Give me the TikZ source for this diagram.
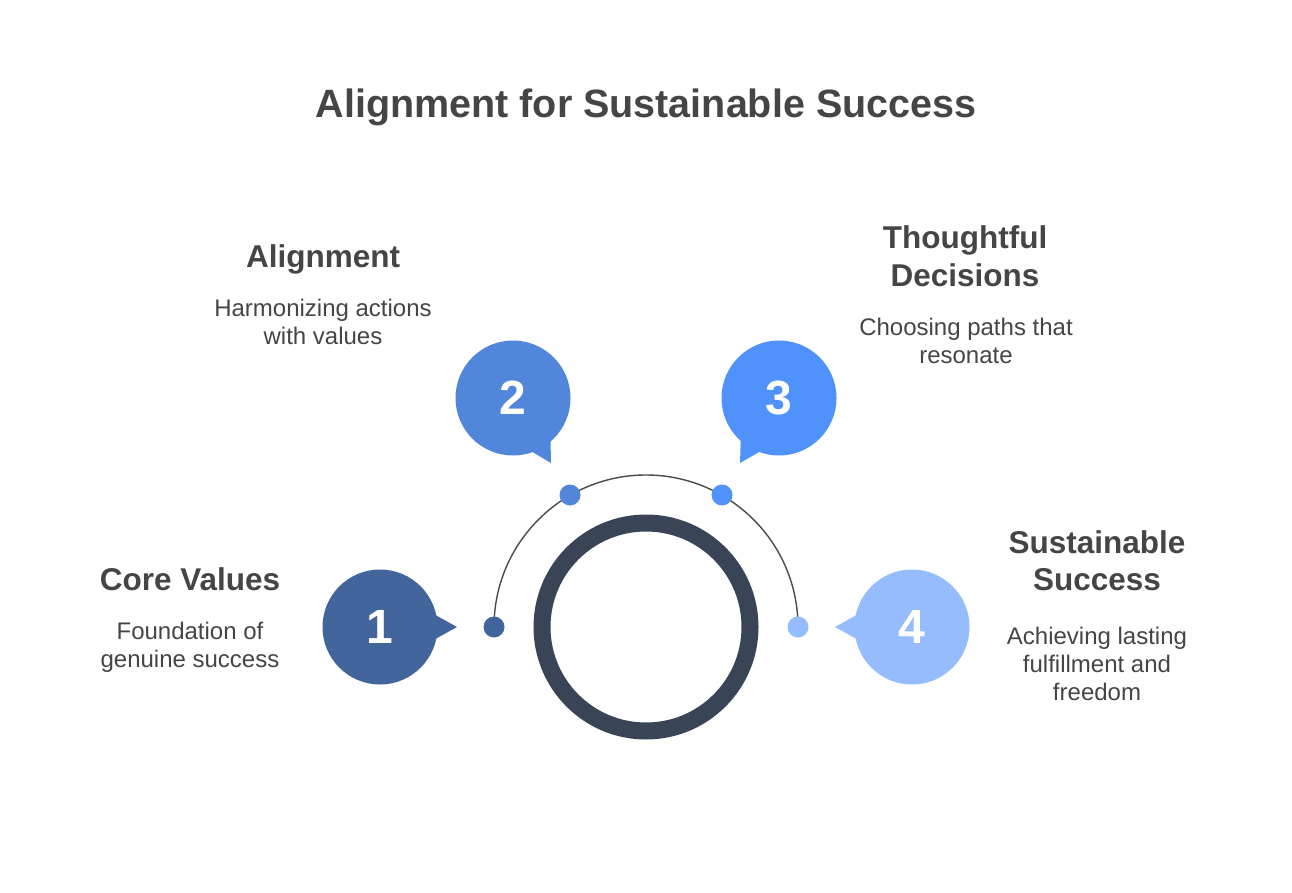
\documentclass[tikz,border=0pt]{standalone}
\usepackage{fontspec}
\setmainfont{Liberation Sans}
\usepackage{tikz}
\usetikzlibrary{calc}
\usepackage{xcolor}

\definecolor{txtgray}{HTML}{454545}
\definecolor{ringcol}{HTML}{394457}
\definecolor{arccol}{HTML}{4A4A4A}
\definecolor{stepone}{HTML}{42659C}
\definecolor{steptwo}{HTML}{5186DB}
\definecolor{stepthree}{HTML}{4F92FB}
\definecolor{stepfour}{HTML}{95BDFD}

\begin{document}
\begin{tikzpicture}[x=1pt,y=-1pt,
  every node/.style={text=txtgray},
  bubble/.style={circle,minimum size=115pt,inner sep=0pt,text=white,
    font=\fontsize{48}{48}\selectfont\bfseries},
  dot/.style={circle,minimum size=21pt,inner sep=0pt},
  headtxt/.style={anchor=base,align=center,font=\fontsize{31.5}{37}\selectfont\bfseries},
  bodytxt/.style={anchor=base,align=center,font=\fontsize{24}{28}\selectfont}]
\useasboundingbox[fill=white] (0,0) rectangle (1292,893);

% title
\node[anchor=base,font=\fontsize{39.5}{46}\selectfont\bfseries] (title) at (646,118)
  {Alignment for Sustainable Success};

% centre ring and arc
\node[circle,draw=ringcol,line width=17pt,minimum size=208pt,inner sep=0pt] (ring) at (646,627) {};
\coordinate (d1c) at (494,627);
\draw[arccol,line width=1.4pt] (d1c) arc[start angle=180,end angle=0,radius=152pt];
\node[dot,fill=stepone] (d1) at (494,627) {};
\node[dot,fill=steptwo] (d2) at (570,495) {};
\node[dot,fill=stepthree] (d3) at (722,495) {};
\node[dot,fill=stepfour] (d4) at (798,627) {};

% bubbles with tails
\coordinate (t1) at (457,627);
\coordinate (t2) at (551,463);
\coordinate (t3) at (740,463);
\coordinate (t4) at (835,627);
\node[bubble,fill=stepone] (b1) at (380,627) {1};
\node[bubble,fill=steptwo] (b2) at (513,398) {2};
\node[bubble,fill=stepthree] (b3) at (779,398) {3};
\node[bubble,fill=stepfour] (b4) at (912,627) {4};
\fill[stepone] ($(b1.center)!0.6!25:(t1)$) -- (t1) -- ($(b1.center)!0.6!-25:(t1)$) -- cycle;
\fill[steptwo] ($(b2.center)!0.6!25:(t2)$) -- (t2) -- ($(b2.center)!0.6!-25:(t2)$) -- cycle;
\fill[stepthree] ($(b3.center)!0.6!25:(t3)$) -- (t3) -- ($(b3.center)!0.6!-25:(t3)$) -- cycle;
\fill[stepfour] ($(b4.center)!0.6!25:(t4)$) -- (t4) -- ($(b4.center)!0.6!-25:(t4)$) -- cycle;

% labels (base = last line)
\node[headtxt] (h1) at (190,590) {Core Values};
\node[bodytxt] (s1) at (190,667) {Foundation of\\genuine success};
\node[headtxt] (h2) at (323,268) {Alignment};
\node[bodytxt] (s2) at (323,344) {Harmonizing actions\\with values};
\node[headtxt] (h3) at (965,286) {Thoughtful\\Decisions};
\node[bodytxt] (s3) at (966,363) {Choosing paths that\\resonate};
\node[headtxt] (h4) at (1097,590) {Sustainable\\Success};
\node[bodytxt] (s4) at (1097,700) {Achieving lasting\\fulfillment and\\freedom};
\end{tikzpicture}
\end{document}
